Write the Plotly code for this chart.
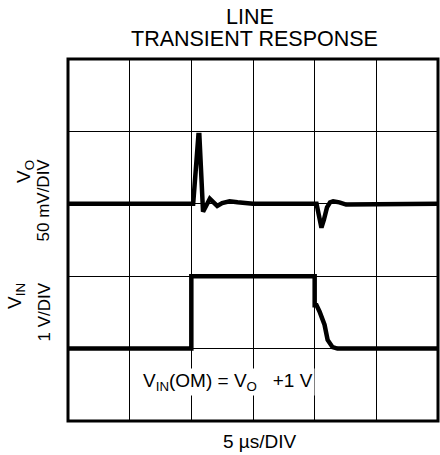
import plotly.graph_objects as go

# ---- data (time in divisions of 5 us, amplitude in screen divisions) ----
vo_time = [0, 2.03, 2.115, 2.13, 2.19, 2.24, 2.30, 2.36, 2.42, 2.50, 2.62, 2.75, 2.90, 3.0,
           4.03, 4.07, 4.11, 4.15, 4.20, 4.25, 4.30, 4.40, 4.51, 6]
vo_div = [3.0, 3.0, 3.95, 3.95, 2.89, 2.98, 3.07, 3.02, 2.97, 3.01, 3.035, 3.02, 3.0, 3.0,
          3.0, 2.80, 2.67, 2.78, 2.95, 3.02, 3.035, 3.02, 2.99, 3.0]

vin_time = [0, 2.0, 2.0, 4.0, 4.0, 4.03, 4.08, 4.16, 4.21, 4.29, 4.37, 6]
vin_div = [1.0, 1.0, 2.0, 2.0, 1.6, 1.6, 1.51, 1.33, 1.12, 1.02, 1.0, 1.0]

x_divs = 6
y_divs = 5

FONT = "Liberation Sans, Arial, sans-serif"

fig = go.Figure()
fig.add_trace(go.Scatter(x=vo_time, y=vo_div, mode="lines",
                         line=dict(color="black", width=4.5), hoverinfo="skip"))
fig.add_trace(go.Scatter(x=vin_time, y=vin_div, mode="lines",
                         line=dict(color="black", width=4.5), hoverinfo="skip"))

W, H = 440, 455
L, R, T, B = 68, 2, 59, 34
pw, ph = W - L - R, H - T - B

def px(xp):
    return (xp - L) / pw

def py(yp):
    return (H - B - yp) / ph

fig.update_layout(
    width=W, height=H,
    margin=dict(l=L, r=R, t=T, b=B),
    paper_bgcolor="white", plot_bgcolor="white",
    showlegend=False,
    font=dict(family=FONT, color="black"),
    xaxis=dict(range=[0, x_divs], dtick=1, showticklabels=False, ticks="",
               showgrid=True, gridcolor="black", gridwidth=1, zeroline=False,
               fixedrange=True),
    yaxis=dict(range=[0, y_divs], dtick=1, showticklabels=False, ticks="",
               showgrid=True, gridcolor="black", gridwidth=1, zeroline=False,
               fixedrange=True),
    shapes=[dict(type="rect", xref="paper", yref="paper", x0=0, x1=1, y0=0, y1=1,
                 line=dict(color="black", width=3), layer="above")],
)

ann = []
# title lines
ann.append(dict(text="LINE", x=px(250), y=py(16.5), xref="paper", yref="paper",
                showarrow=False, xanchor="center", yanchor="middle",
                font=dict(size=21.5, family=FONT)))
ann.append(dict(text="TRANSIENT RESPONSE", x=px(254), y=py(39.2), xref="paper", yref="paper",
                showarrow=False, xanchor="center", yanchor="middle",
                font=dict(size=21.5, family=FONT)))
# x label
ann.append(dict(text="5 \u00b5s/DIV", x=px(259.7), y=py(441.5), xref="paper", yref="paper",
                showarrow=False, xanchor="center", yanchor="middle",
                font=dict(size=19, family=FONT)))
# y labels
ann.append(dict(text="V<sub>O</sub>", x=px(25), y=py(172), xref="paper", yref="paper",
                showarrow=False, xanchor="center", yanchor="middle", textangle=-90,
                font=dict(size=19, family=FONT)))
ann.append(dict(text="50 mV/DIV", x=px(43.5), y=py(200), xref="paper", yref="paper",
                showarrow=False, xanchor="center", yanchor="middle", textangle=-90,
                font=dict(size=17, family=FONT)))
ann.append(dict(text="V<sub>IN</sub>", x=px(16), y=py(296), xref="paper", yref="paper",
                showarrow=False, xanchor="center", yanchor="middle", textangle=-90,
                font=dict(size=19, family=FONT)))
ann.append(dict(text="1 V/DIV", x=px(43.5), y=py(312), xref="paper", yref="paper",
                showarrow=False, xanchor="center", yanchor="middle", textangle=-90,
                font=dict(size=17, family=FONT)))
# inside note
ann.append(dict(text="V<sub>IN</sub>(OM) = V<sub>O</sub>\u00a0\u00a0 +1 V", x=px(141), y=py(382),
                xref="paper", yref="paper", showarrow=False, xanchor="left", yanchor="middle",
                bgcolor="white", borderpad=1,
                font=dict(size=19, family=FONT)))
fig.update_layout(annotations=ann)

fig.write_html("out.html",
               config={"displayModeBar": False, "staticPlot": True},
               post_script="document.body.style.margin='0';document.body.style.overflow='hidden';")
